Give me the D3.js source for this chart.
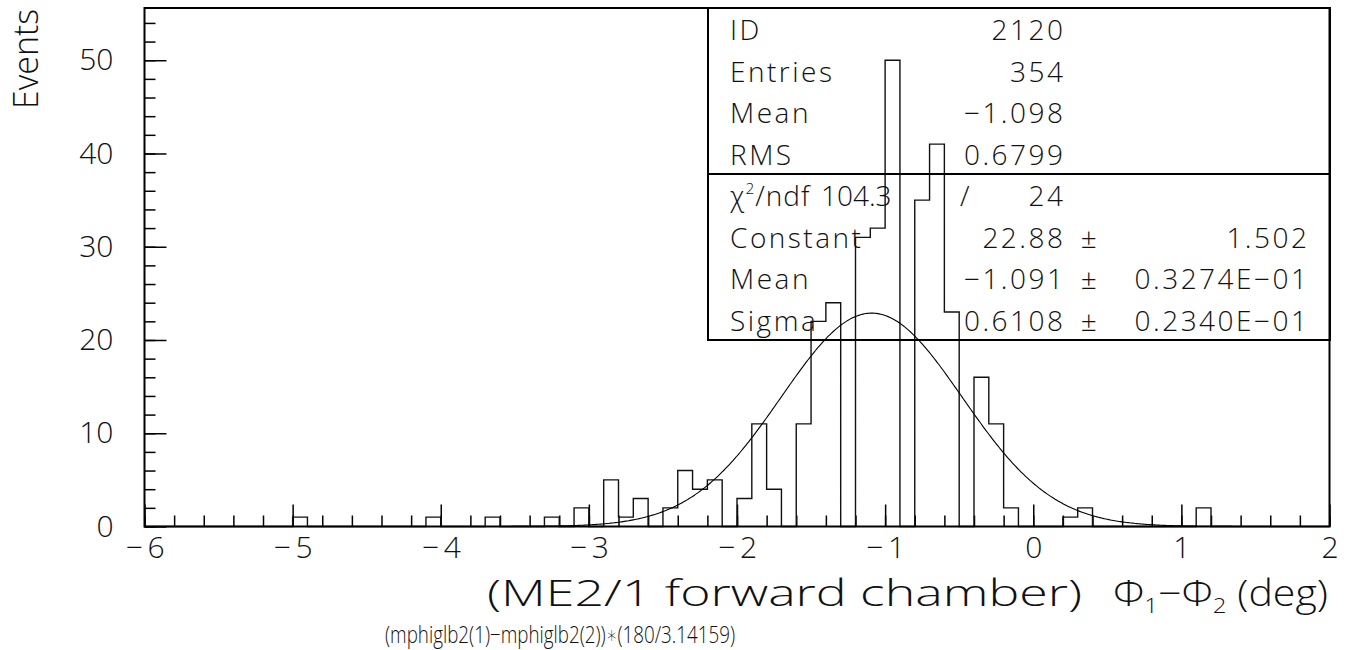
<!DOCTYPE html>
<html>
<head>
<meta charset="utf-8">
<script src="https://cdn.jsdelivr.net/npm/d3@7/dist/d3.min.js"></script>
<style>
  html, body { margin: 0; padding: 0; background: #fff; }
  svg text { font-family: "Open Sans", "DejaVu Sans", sans-serif; font-weight: 300; fill: #111; }
  .stat { letter-spacing: 2.5px; }
</style>
</head>
<body>
<svg id="chart" width="1351" height="650"></svg>
<script>
// Histogram 2120: phi1 - phi2 difference, ME2/1 forward chamber, 0.1 deg bins from -6 to 2
const binLowEdge = -6.0;
const binWidth = 0.1;
const counts = [
  0, 0, 0, 0, 0, 0, 0, 0, 0, 0,    // -6.0 .. -5.1
  1, 0, 0, 0, 0, 0, 0, 0, 0, 1,    // -5.0 .. -4.1
  0, 0, 0, 1, 0, 0, 0, 1, 0, 2,    // -4.0 .. -3.1
  0, 5, 1, 3, 0, 2, 6, 4, 5, 0,    // -3.0 .. -2.1
  3, 11, 4, 0, 11, 22, 24, 0, 31, 32, // -2.0 .. -1.1
  50, 0, 35, 41, 23, 0, 16, 11, 2, 0, // -1.0 .. -0.1
  0, 0, 1, 2, 0, 0, 0, 0, 0, 0,    //  0.0 ..  0.9
  0, 2, 0, 0, 0, 0, 0, 0, 0, 0     //  1.0 ..  1.9
];

// Gaussian fit parameters
const fitConstant = 22.88;
const fitMean = -1.091;
const fitSigma = 0.6108;

// Axis ticks
const xMajorTicks = [-6, -5, -4, -3, -2, -1, 0, 1, 2];
const yMajorTicks = [0, 10, 20, 30, 40, 50];

// Statistics box rows
const statsRows = [
  ["ID", "2120"],
  ["Entries", "354"],
  ["Mean", "\u22121.098"],
  ["RMS", "0.6799"]
];
const fitRows = [
  ["Constant", "22.88", "1.502"],
  ["Mean", "\u22121.091", "0.3274E\u221201"],
  ["Sigma", "0.6108", "0.2340E\u221201"]
];
const chi2 = "104.3";
const ndf = "24";

const svg = d3.select("#chart");

const plotL = 144.5, plotR = 1329.5, plotT = 8, plotB = 526.5;
const x = d3.scaleLinear().domain([-6, 2]).range([plotL, plotR]);
const y = d3.scaleLinear().domain([0, 55.6]).range([plotB, plotT]);

const fmt = d => d < 0 ? "\u2212\u2009" + Math.abs(d) : String(d);

// minor ticks
svg.append("g").attr("transform", `translate(0,${plotB})`)
  .call(d3.axisBottom(x).tickValues(d3.range(-6, 2.001, 0.2)).tickSize(-11).tickFormat(""))
  .call(g => g.select(".domain").remove())
  .call(g => g.selectAll("line").attr("stroke", "#000").attr("stroke-width", 1.5));
svg.append("g").attr("transform", `translate(${plotL},0)`)
  .call(d3.axisLeft(y).tickValues(d3.range(0, 55, 2)).tickSize(-11).tickFormat(""))
  .call(g => g.select(".domain").remove())
  .call(g => g.selectAll("line").attr("stroke", "#000").attr("stroke-width", 1.5));

// major ticks + labels
svg.append("g").attr("transform", `translate(0,${plotB})`)
  .call(d3.axisBottom(x).tickValues(xMajorTicks).tickSize(-22).tickPadding(10).tickFormat(fmt))
  .call(g => g.select(".domain").remove())
  .call(g => g.selectAll("line").attr("stroke", "#000").attr("stroke-width", 1.5))
  .call(g => g.selectAll("text").attr("font-size", 30).attr("font-family", null).attr("fill", null));
svg.append("g").attr("transform", `translate(${plotL},0)`)
  .call(d3.axisLeft(y).tickValues(yMajorTicks).tickSize(-22).tickPadding(31))
  .call(g => g.select(".domain").remove())
  .call(g => g.selectAll("line").attr("stroke", "#000").attr("stroke-width", 1.5))
  .call(g => g.selectAll("text").attr("font-size", 30).attr("font-family", null).attr("fill", null));

// histogram outline
const pts = [];
counts.forEach((c, i) => {
  const x0 = binLowEdge + i * binWidth, x1 = x0 + binWidth;
  pts.push([x0, c], [x1, c]);
});
pts.unshift([binLowEdge, 0]);
pts.push([binLowEdge + counts.length * binWidth, 0]);
svg.append("path")
  .attr("d", d3.line().x(d => x(d[0])).y(d => y(d[1]))(pts))
  .attr("fill", "none").attr("stroke", "#111").attr("stroke-width", 1.4);

// gaussian fit curve
const gauss = v => fitConstant * Math.exp(-0.5 * ((v - fitMean) / fitSigma) ** 2);
const curve = d3.range(-6, 2.0001, 0.01).map(v => [v, gauss(v)]);
svg.append("path")
  .attr("d", d3.line().x(d => x(d[0])).y(d => y(d[1]))(curve))
  .attr("fill", "none").attr("stroke", "#000").attr("stroke-width", 1.1);

// frame
svg.append("rect").attr("x", plotL).attr("y", plotT)
  .attr("width", plotR - plotL).attr("height", plotB - plotT)
  .attr("fill", "none").attr("stroke", "#000").attr("stroke-width", 2);

// statistics box
const bx0 = 708, bx1 = 1330, by0 = 8, byMid = 174, by1 = 340;
svg.append("rect").attr("x", bx0).attr("y", by0).attr("width", bx1 - bx0).attr("height", by1 - by0)
  .attr("fill", "none").attr("stroke", "#000").attr("stroke-width", 2);
svg.append("line").attr("x1", bx0).attr("x2", bx1).attr("y1", byMid).attr("y2", byMid)
  .attr("stroke", "#000").attr("stroke-width", 2);

const rowH = 41.5, fs = 28;
const labelX = 730, valX = 1065.5, pmX = 1090, errX = 1309.5;
const stat = (xx, yy, str, anchor) => svg.append("text").attr("class", "stat")
  .attr("x", xx).attr("y", yy).attr("font-size", fs).attr("text-anchor", anchor || "start").text(str);

statsRows.forEach((r, i) => {
  const yy = 40 + i * rowH;
  stat(labelX, yy, r[0]);
  stat(valX, yy, r[1], "end");
});
// chi2 row
{
  const yy = 40 + 4 * rowH;
  const t = stat(labelX, yy, null).style("letter-spacing", "1px");
  t.append("tspan").text("\u03C7");
  t.append("tspan").attr("font-size", fs * 0.55).attr("dy", -12).text("2");
  t.append("tspan").attr("dy", 12).text("/ndf");
  stat(821, yy, chi2).style("letter-spacing", "0px");
  stat(966, yy, "/", "middle");
  stat(valX, yy, ndf, "end");
}
fitRows.forEach((r, i) => {
  const yy = 40 + (5 + i) * rowH;
  stat(labelX, yy, r[0]);
  stat(valX, yy, r[1], "end");
  stat(pmX, yy, "\u00B1", "middle");
  stat(errX, yy, r[2], "end");
});

// axis titles
svg.append("text").attr("transform", "translate(38,9) rotate(-90)")
  .attr("text-anchor", "end").attr("font-size", 34)
  .attr("textLength", 100).attr("lengthAdjust", "spacingAndGlyphs").text("Events");

svg.append("text").attr("x", 487).attr("y", 606).attr("font-size", 36)
  .attr("textLength", 595).attr("lengthAdjust", "spacingAndGlyphs")
  .text("(ME2/1 forward chamber)");
{
  const t = svg.append("text").attr("x", 1113).attr("y", 606).attr("font-size", 36)
    .attr("textLength", 215).attr("lengthAdjust", "spacingAndGlyphs");
  t.append("tspan").text("\u03A6");
  t.append("tspan").attr("font-size", 21).attr("dy", 7).text("1");
  t.append("tspan").attr("dy", -7).text("\u2212\u03A6");
  t.append("tspan").attr("font-size", 21).attr("dy", 7).text("2");
  t.append("tspan").attr("dy", -7).text(" (deg)");
}
svg.append("text").attr("x", 385).attr("y", 643).attr("font-size", 24)
  .attr("textLength", 350).attr("lengthAdjust", "spacingAndGlyphs")
  .text("(mphiglb2(1)\u2212mphiglb2(2))\u2217(180/3.14159)");
</script>
</body>
</html>
